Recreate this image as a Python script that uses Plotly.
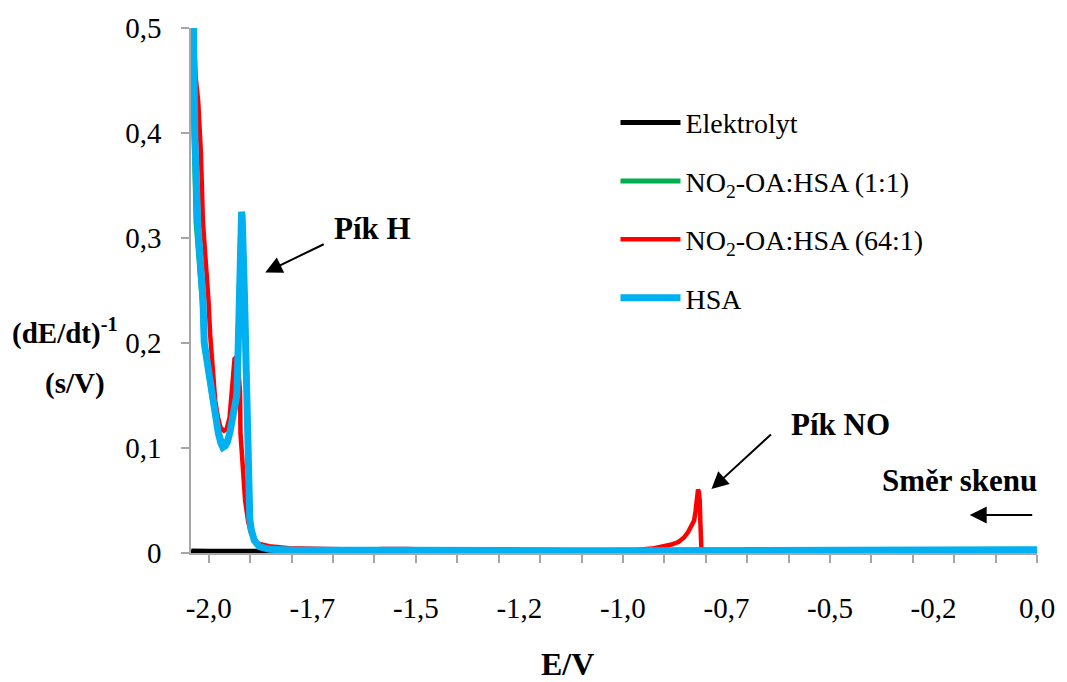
import plotly.graph_objects as go

# ---------------- data ----------------
elek_E = [-2.043, -2.040, -2.00, -1.95, -1.90, -1.85, -1.80, -1.60, -1.40, -1.20, -1.00,
          -0.80, -0.60, -0.40, -0.20, -0.05, 0.0]
elek_v = [0.0020, 0.0018, 0.0016, 0.0015, 0.0015, 0.0014, 0.0014, 0.0014, 0.0014, 0.0014,
          0.0014, 0.0014, 0.0014, 0.0014, 0.0015, 0.0016, 0.0018]

g11_E = [-2.038, -2.037, -2.031, -2.022, -2.016, -2.012, -2.004, -1.991, -1.984, -1.976,
         -1.970, -1.964, -1.958, -1.953, -1.947, -1.942, -1.936, -1.932, -1.929, -1.9265,
         -1.9245, -1.9225, -1.920, -1.9168, -1.914, -1.9105, -1.908, -1.906, -1.9045, -1.901,
         -1.897, -1.890, -1.878, -1.854, -1.80, -1.70, -1.60, -1.50, -1.40, -1.30, -1.20,
         -1.10, -1.00, -0.90, -0.80, -0.70, -0.60, -0.50, -0.40, -0.30, -0.20, -0.10,
         -0.05, -0.02, 0.0]
g11_v = [0.500, 0.430, 0.316, 0.271, 0.240, 0.200, 0.176, 0.145, 0.129, 0.116,
         0.108, 0.104, 0.106, 0.110, 0.119, 0.132, 0.142, 0.155, 0.195, 0.245,
         0.290, 0.318, 0.314, 0.292, 0.240, 0.180, 0.130, 0.080, 0.050, 0.032,
         0.022, 0.012, 0.006, 0.0035, 0.0028, 0.0025, 0.0024, 0.0023, 0.0022, 0.0022, 0.0021,
         0.0021, 0.0021, 0.0021, 0.0020, 0.0020, 0.0020, 0.0020, 0.0020, 0.0021, 0.0022, 0.0024,
         0.0026, 0.0029, 0.0032]

g64_E = [-2.037, -2.032, -2.0256, -2.019, -2.0143, -2.0055, -2.0007, -1.9969, -1.9909, -1.9845,
         -1.9778, -1.9713, -1.9634, -1.957, -1.9498, -1.9438, -1.9405, -1.9379, -1.9350, -1.9319,
         -1.9280, -1.9247, -1.9235, -1.9187, -1.9123, -1.905, -1.898, -1.883, -1.854, -1.806,
         -1.711, -1.62, -1.58, -1.55, -1.52, -1.48, -1.40, -1.30, -1.20, -1.10, -1.00,
         -0.963, -0.930, -0.906, -0.885, -0.866, -0.853, -0.8425, -0.835, -0.828, -0.8245,
         -0.8225, -0.8205, -0.8186, -0.8165, -0.8145, -0.8130, -0.8120, -0.8105, -0.805, -0.70,
         -0.60, -0.50, -0.40, -0.30, -0.20, -0.10, -0.05, -0.02, 0.0]
g64_v = [0.500, 0.454, 0.430, 0.380, 0.316, 0.271, 0.240, 0.209, 0.176, 0.145,
         0.129, 0.119, 0.1165, 0.118, 0.129, 0.159, 0.175, 0.185, 0.186, 0.181,
         0.170, 0.154, 0.114, 0.081, 0.050, 0.030, 0.0187, 0.0092, 0.0064, 0.0045,
         0.0035, 0.0032, 0.0038, 0.0042, 0.0038, 0.0033, 0.0028, 0.0026, 0.0025, 0.0025, 0.0025,
         0.0030, 0.0042, 0.0057, 0.0078, 0.0104, 0.0145, 0.0200, 0.0250, 0.0310, 0.0400,
         0.0500, 0.0580, 0.0605, 0.0580, 0.0500, 0.0300, 0.0120, 0.0045, 0.0028, 0.0026,
         0.0025, 0.0025, 0.0025, 0.0025, 0.0025, 0.0026, 0.0028, 0.0030, 0.0034]

hsa_E = [-2.037, -2.034, -2.027, -2.019, -2.014, -2.011, -2.002, -1.990, -1.985, -1.977,
         -1.971, -1.966, -1.960, -1.955, -1.949, -1.9426, -1.936, -1.9324, -1.9295, -1.9271,
         -1.9245, -1.9232, -1.9220, -1.9208, -1.9195, -1.9180, -1.9163, -1.9135, -1.9100, -1.9075,
         -1.9055, -1.9040, -1.9010, -1.8972, -1.890, -1.878, -1.854, -1.80, -1.70, -1.60, -1.50,
         -1.40, -1.30, -1.20, -1.10, -1.00, -0.90, -0.80, -0.70, -0.60, -0.50, -0.40, -0.30,
         -0.20, -0.10, -0.05, -0.02, 0.0]
hsa_v = [0.500, 0.399, 0.316, 0.271, 0.240, 0.200, 0.176, 0.145, 0.129, 0.114,
         0.105, 0.1005, 0.102, 0.106, 0.115, 0.129, 0.138, 0.150, 0.190, 0.245,
         0.295, 0.314, 0.3225, 0.325, 0.321, 0.308, 0.290, 0.240, 0.180, 0.130,
         0.080, 0.050, 0.032, 0.0216, 0.012, 0.006, 0.0035, 0.0028, 0.0025, 0.0024, 0.0023,
         0.0022, 0.0022, 0.0021, 0.0021, 0.0021, 0.0021, 0.0020, 0.0020, 0.0020, 0.0020, 0.0020,
         0.0021, 0.0022, 0.0024, 0.0026, 0.0029, 0.0032]

series_names = ["Elektrolyt", "NO<sub>2</sub>-OA:HSA (1:1)", "NO<sub>2</sub>-OA:HSA (64:1)", "HSA"]
series_colors = ["#000000", "#00B050", "#FF0000", "#00B0F0"]

x_tick_vals = [-2.0, -1.75, -1.5, -1.25, -1.0, -0.75, -0.5, -0.25, 0.0]
x_tick_text = ["-2,0", "-1,7", "-1,5", "-1,2", "-1,0", "-0,7", "-0,5", "-0,2", "0,0"]
y_tick_vals = [0.0, 0.1, 0.2, 0.3, 0.4, 0.5]
y_tick_text = ["0", "0,1", "0,2", "0,3", "0,4", "0,5"]

# ---------------- layout geometry ----------------
W, H = 1067, 682
L, R, T, B = 191, 21, 27, 129
PW, PH = W - L - R, H - T - B


def px(x):
    return (x - L) / PW


def py(y):
    return (H - B - y) / PH


FONT = "Liberation Serif"
GRAY = "#A6A6A6"

fig = go.Figure()
data = [(elek_E, elek_v, 5), (g11_E, g11_v, 5), (g64_E, g64_v, 4.5), (hsa_E, hsa_v, 7)]
for i, (xs, ys, w) in enumerate(data):
    fig.add_trace(go.Scatter(
        x=xs, y=ys, mode="lines", name=series_names[i],
        line=dict(color=series_colors[i], width=w),
        legendgroup="g%d" % i,
    ))

# invisible trace to carry the label axis
fig.add_trace(go.Scatter(x=[x_tick_vals[0]], y=[0], xaxis="x2", mode="markers",
                         marker=dict(opacity=0), showlegend=False, hoverinfo="skip"))

xr = [-2.0 - (209 - L) / 418.4, 0.0]

fig.update_layout(
    width=W, height=H,
    margin=dict(l=L, r=R, t=T, b=B),
    paper_bgcolor="white", plot_bgcolor="white",
    font=dict(family=FONT, size=28, color="black"),
    showlegend=True,
    legend=dict(x=px(620), y=py(97), xanchor="left", yanchor="top",
                font=dict(family=FONT, size=28, color="black"), tracegroupgap=19,
                itemwidth=60, bgcolor="rgba(0,0,0,0)"),
    xaxis=dict(range=xr, showgrid=False, zeroline=False, showline=True,
               linecolor=GRAY, linewidth=1.5, ticks="outside", ticklen=8,
               tickcolor=GRAY, tickwidth=1.5, tick0=0, dtick=0.1,
               showticklabels=False),
    xaxis2=dict(range=xr, overlaying="x", anchor="y", side="bottom",
                showgrid=False, zeroline=False, showline=False, ticks="",
                tickmode="array", tickvals=x_tick_vals, ticktext=x_tick_text,
                tickfont=dict(family=FONT, size=29, color="black"), ticklabelstandoff=35),
    yaxis=dict(range=[0, 0.5], showgrid=False, zeroline=False, showline=True,
               linecolor=GRAY, linewidth=1.5, ticks="outside", ticklen=8,
               tickcolor=GRAY, tickwidth=1.5, tickmode="array",
               tickvals=y_tick_vals, ticktext=y_tick_text,
               tickfont=dict(family=FONT, size=29, color="black"), ticklabelstandoff=14),
)

ann = []


def label(text, x, y, size=31):
    ann.append(dict(text="<b>%s</b>" % text, x=px(x), y=py(y), xref="paper", yref="paper",
                    showarrow=False, font=dict(family=FONT, size=size, color="black"),
                    xanchor="center", yanchor="middle"))


def arrow(tail, head):
    ann.append(dict(text="", x=px(head[0]), y=py(head[1]), xref="paper", yref="paper",
                    ax=tail[0] - head[0], ay=tail[1] - head[1], showarrow=True,
                    arrowhead=2, arrowsize=1.7, arrowwidth=2, arrowcolor="black"))


label("Pík H", 374, 228)
arrow((326, 243), (266, 272))
label("Pík NO", 847, 424)
arrow((778, 433), (717, 489))
label("Směr skenu", 968, 480)
arrow((1042, 515), (978, 515))
label("(dE/dt)<sup>-1</sup>", 64, 331, 29)
label("(s/V)", 74, 383, 29)
label("E/V", 572, 664, 32)

fig.update_layout(annotations=ann)
fig.write_html("out.html", config={"displayModeBar": False},
               post_script="document.body.style.margin='0';document.body.style.padding='0';")
